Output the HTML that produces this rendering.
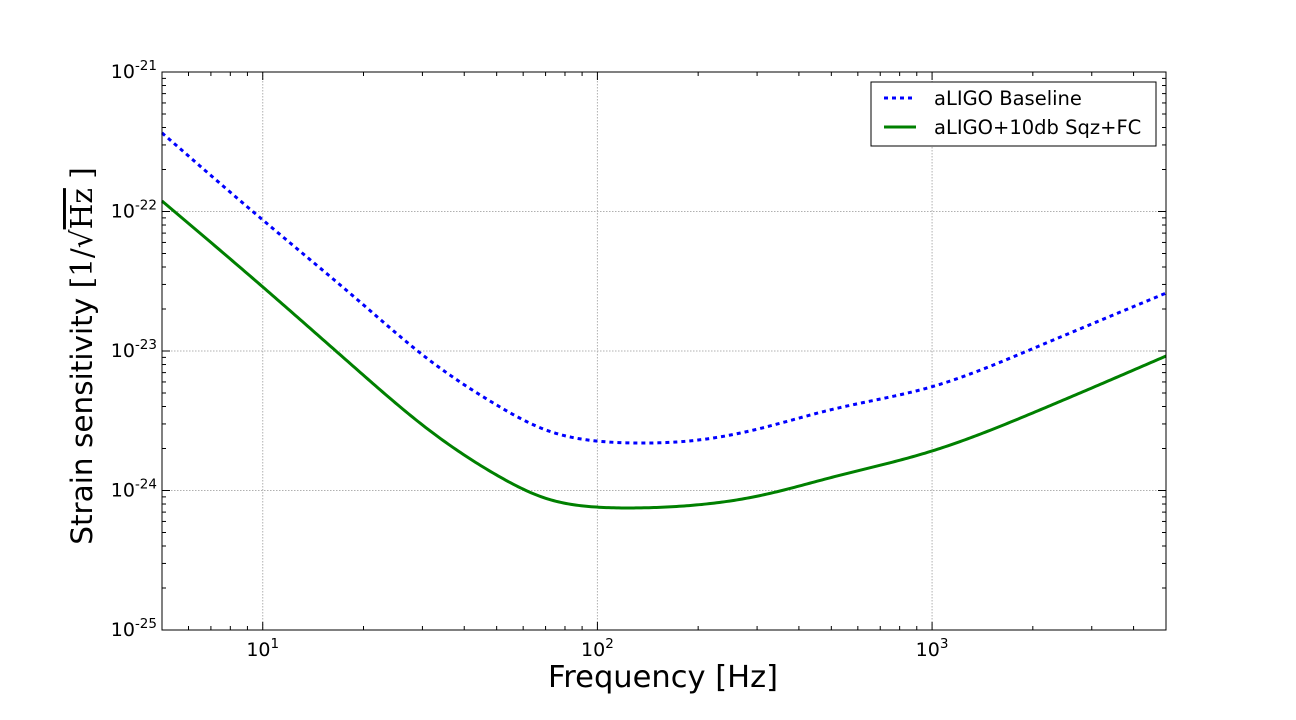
<!DOCTYPE html>
<html><head><meta charset="utf-8"><style>
body{margin:0;background:#fff;}
svg{display:block;font-family:"DejaVu Sans","Liberation Sans",sans-serif;}
</style></head><body>
<svg id="chart" width="1296" height="720">
<g id="grid"></g>
<g id="ticks"></g>
<g id="series"></g>
<rect x="162" y="72" width="1004" height="558" fill="none" stroke="#000" stroke-width="1"/>
<g id="labels"></g>
<text x="663" y="687" font-size="30.5" text-anchor="middle">Frequency [Hz]</text>
<text transform="translate(92,356) rotate(-90)" font-size="29.5" text-anchor="middle">Strain sensitivity <tspan font-family="DejaVu Serif,Liberation Serif,serif">[1/√<tspan text-decoration="overline">Hz</tspan> ]</tspan></text>
<g>
<rect x="871" y="82" width="285" height="64" fill="#fff" stroke="#000" stroke-width="1"/>
<line x1="884" y1="98" x2="916" y2="98" stroke="#0000ff" stroke-width="3" stroke-dasharray="4,4"/>
<text x="934" y="105" font-size="19.5">aLIGO Baseline</text>
<line x1="884" y1="127" x2="916" y2="127" stroke="#008000" stroke-width="3"/>
<text x="934" y="134" font-size="19.5">aLIGO+10db Sqz+FC</text>
</g>
</svg>
<script>
const freqs=[5,10,20,30,50,70,100,130,200,300,500,1000,2000,5000];
const baseline=[3.66e-22,8.7e-23,2.14e-23,9.4e-24,4.1e-24,2.72e-24,2.26e-24,2.19e-24,2.3e-24,2.75e-24,3.8e-24,5.55e-24,1.04e-23,2.6e-23];
const sqzfc=[1.19e-22,2.88e-23,6.7e-24,2.95e-24,1.29e-24,8.8e-25,7.6e-25,7.5e-25,7.9e-25,9.1e-25,1.24e-24,1.92e-24,3.6e-24,9.2e-24];
const xTickExps=[1,2,3];
const yTickExps=[-21,-22,-23,-24,-25];
const X0=162,X1=1166,Y0=72,Y1=630;
const xmin=Math.log10(5),xmax=Math.log10(5000),ymin=-25,ymax=-21;
const xs=f=>X0+(Math.log10(f)-xmin)/(xmax-xmin)*(X1-X0);
const ys=v=>Y1-(Math.log10(v)-ymin)/(ymax-ymin)*(Y1-Y0);
const NS="http://www.w3.org/2000/svg";
function mk(tag,attrs,parent){const e=document.createElementNS(NS,tag);for(const k in attrs)e.setAttribute(k,attrs[k]);parent.appendChild(e);return e;}
const grid=document.getElementById('grid'),ticks=document.getElementById('ticks'),labels=document.getElementById('labels'),series=document.getElementById('series');
xTickExps.forEach(e=>{const x=xs(Math.pow(10,e));
 const g=mk('line',{x1:x,x2:x,y1:Y0,y2:Y1,stroke:'#b0b0b0','stroke-dasharray':'1.5,1.5'},grid);
 
 
 const t=mk('text',{x:x,y:656,'font-size':19,'text-anchor':'middle'},labels);
 
 
 t.innerHTML='10<tspan dy="-8" font-size="13.5">'+e+'</tspan>';});
yTickExps.forEach(e=>{const y=ys(Math.pow(10,e));
 if(e>-25&&e<-21){const g=mk('line',{x1:X0,x2:X1,y1:y,y2:y,stroke:'#b0b0b0','stroke-dasharray':'1.5,1.5'},grid);
 
 }
 const t=mk('text',{x:157,y:y+6,'font-size':19,'text-anchor':'end'},labels);
 
 
 t.innerHTML='10<tspan dy="-8" font-size="13.5">'+e+'</tspan>';});
for(let d=0;d<=4;d++){for(let m=1;m<10;m++){const f=m*Math.pow(10,d);if(f<5||f>5000)continue;const x=xs(f);const L=m==1?8:4;
 mk('line',{x1:x,x2:x,y1:Y1,y2:Y1-L,stroke:'#000'},ticks);mk('line',{x1:x,x2:x,y1:Y0,y2:Y0+L,stroke:'#000'},ticks);}}
for(let d=-25;d<-21;d++){for(let m=1;m<=10;m++){const v=m*Math.pow(10,d);const y=ys(v);const L=(m==1||m==10)?8:4;
 mk('line',{x1:X0,x2:X0+L,y1:y,y2:y,stroke:'#000'},ticks);mk('line',{x1:X1,x2:X1-L,y1:y,y2:y,stroke:'#000'},ticks);}}
function spline(xa,ya){const n=xa.length,h=[],al=[0],l=[1],mu=[0],z=[0],c=new Array(n).fill(0),b=[],d=[];
 for(let i=0;i<n-1;i++)h.push(xa[i+1]-xa[i]);
 for(let i=1;i<n-1;i++)al.push(3/h[i]*(ya[i+1]-ya[i])-3/h[i-1]*(ya[i]-ya[i-1]));
 for(let i=1;i<n-1;i++){l[i]=2*(xa[i+1]-xa[i-1])-h[i-1]*mu[i-1];mu[i]=h[i]/l[i];z[i]=(al[i]-h[i-1]*z[i-1])/l[i];}
 for(let j=n-2;j>=0;j--){c[j]=(j>0?z[j]:0)-mu[j]*c[j+1];b[j]=(ya[j+1]-ya[j])/h[j]-h[j]*(c[j+1]+2*c[j])/3;d[j]=(c[j+1]-c[j])/(3*h[j]);}
 return x=>{let i=0;while(i<n-2&&x>xa[i+1])i++;const t=x-xa[i];return ya[i]+b[i]*t+c[i]*t*t+d[i]*t*t*t;};}
function pathFor(vals){const lx=freqs.map(Math.log10),ly=vals.map(Math.log10);const s=spline(lx,ly);let d='';
 for(let k=0;k<=400;k++){const u=lx[0]+(lx[lx.length-1]-lx[0])*k/400;const f=Math.pow(10,u),v=Math.pow(10,s(u));d+=(k?'L':'M')+xs(f).toFixed(2)+','+ys(v).toFixed(2);}return d;}
const b=mk('path',{d:pathFor(baseline),fill:'none',stroke:'#0000ff','stroke-width':3,'stroke-dasharray':'4,4'},series);


const s=mk('path',{d:pathFor(sqzfc),fill:'none',stroke:'#008000','stroke-width':3},series);


</script>
</body></html>
